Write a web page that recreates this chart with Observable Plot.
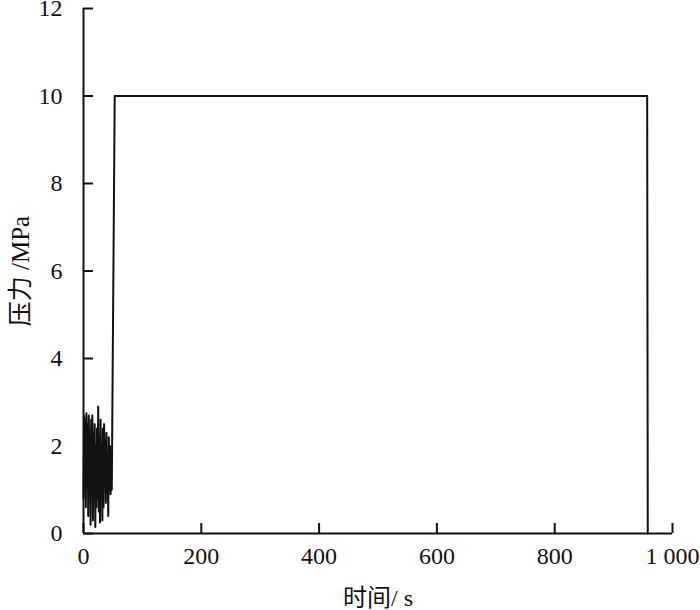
<!DOCTYPE html>
<html>
<head>
<meta charset="utf-8">
<script src="https://cdn.jsdelivr.net/npm/d3@7"></script>
<script src="https://cdn.jsdelivr.net/npm/@observablehq/plot@0.6"></script>
<style>
  html, body { margin: 0; padding: 0; background: #fff; }
</style>
</head>
<body>
<div id="chart"></div>
<script>
const time = [0,1,2,3,4,5,6,7,8,9,10,11,12,13,14,15,16,17,18,19,20,21,22,23,24,25,26,27,28,29,30,31,32,33,34,35,36,37,38,39,40,41,42,43,44,45,46,47,48,53,957,958];
const pressure = [0.8,2.7,1.0,2.6,0.6,2.75,1.2,2.5,0.4,2.7,1.5,2.2,0.2,2.6,0.9,2.7,0.3,2.3,1.0,2.5,0.15,2.0,0.6,2.4,0.8,2.9,0.5,2.2,0.25,2.6,0.9,2.0,0.3,2.4,0.6,2.5,1.2,2.1,0.7,2.3,1.0,1.8,0.4,2.2,1.0,2.0,0.9,1.5,1.0,10,10,0];
const xTicks = [0,200,400,600,800,1000];
const yTicks = [0,2,4,6,8,10,12];
const xLabel = "时间/ s";
const yLabel = "压力 /MPa";

const data = time.map((t, i) => ({t, p: pressure[i]}));
const fmtX = d => d === 1000 ? "1 000" : String(d);

const chart = Plot.plot({
  width: 700,
  height: 610,
  marginLeft: 83,
  marginRight: 28,
  marginTop: 8,
  marginBottom: 77,
  style: {fontFamily: "'Liberation Serif', 'Noto Sans CJK SC', serif", fontSize: "24px", color: "#111", background: "#fff", overflow: "visible"},
  x: {domain: [0, 1000]},
  y: {domain: [0, 12]},
  marks: [
    Plot.axisX(xTicks, {tickSize: 0, tickPadding: 13, tickFormat: fmtX, fontSize: 24, label: null}),
    Plot.axisX(xTicks, {tickSize: -10, tickFormat: () => "", label: null, strokeWidth: 2}),
    Plot.axisY(yTicks, {tickSize: 0, tickPadding: 21, fontSize: 24, label: null}),
    Plot.axisY(yTicks, {tickSize: -10, tickFormat: () => "", label: null, strokeWidth: 2}),
    Plot.text([xLabel], {frameAnchor: "bottom", dy: 65, fontSize: 24, lineAnchor: "middle", textAnchor: "middle", fill: "#111"}),
    Plot.text([yLabel], {frameAnchor: "left", dx: -63, rotate: -90, fontSize: 25, lineAnchor: "middle", textAnchor: "middle", fill: "#111"}),
    Plot.ruleX([0], {strokeWidth: 2, stroke: "#111"}),
    Plot.ruleY([0], {strokeWidth: 2, stroke: "#111"}),
    Plot.line(data, {x: "t", y: "p", stroke: "#111", strokeWidth: 2})
  ]
});
document.getElementById("chart").appendChild(chart);
</script>
</body>
</html>
